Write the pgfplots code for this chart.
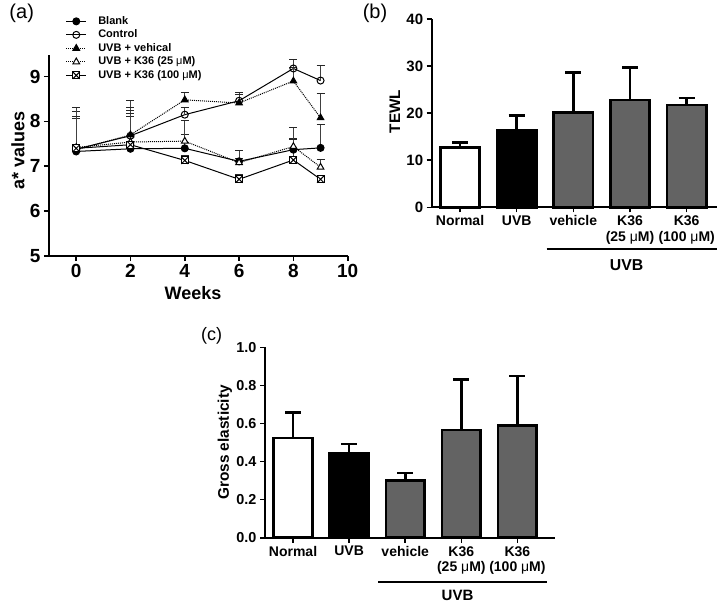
\documentclass[border=0pt]{standalone}
\usepackage{fontspec}
\setmainfont{Liberation Sans}
\usepackage{pgfplots}
\pgfplotsset{compat=1.18}

% square with a cross, GraphPad style
\pgfdeclareplotmark{boxx}{%
  \pgfpathrectangle{\pgfpoint{-\pgfplotmarksize}{-\pgfplotmarksize}}{\pgfpoint{2\pgfplotmarksize}{2\pgfplotmarksize}}%
  \pgfusepathqfillstroke
  \pgfpathmoveto{\pgfpoint{-\pgfplotmarksize}{-\pgfplotmarksize}}%
  \pgfpathlineto{\pgfpoint{\pgfplotmarksize}{\pgfplotmarksize}}%
  \pgfpathmoveto{\pgfpoint{-\pgfplotmarksize}{\pgfplotmarksize}}%
  \pgfpathlineto{\pgfpoint{\pgfplotmarksize}{-\pgfplotmarksize}}%
  \pgfusepathqstroke}

\pgfplotsset{
  gp/.style={
    scale only axis, clip=false,
    axis lines*=left,
    axis line style={line width=2pt,-},
    tick align=outside, major tick length=5pt,
    tick style={line width=1.6pt,black},
    /pgf/number format/assume math mode=true,
  },
  lineerr/.style={error bars/.cd, y dir=plus, y explicit, error mark=|,
    error bar style={line width=1pt,solid,black!75},
    error mark options={line width=1pt,solid,black!85,mark size=4pt}},
  barerr/.style={error bars/.cd, y dir=plus, y explicit, error mark=|,
    error bar style={line width=2.7pt,black},
    error mark options={line width=2.7pt,black,mark size=8pt}},
  gpbar/.style={ybar, bar width=0.69, draw=black, line width=2.7pt, fill=#1},
}

\begin{document}
\begin{tikzpicture}
\useasboundingbox (0,0) rectangle (720pt,-604pt);

\node[font=\fontsize{20}{20}\selectfont] at (21.7pt,-13.3pt) {(a)};
\node[font=\fontsize{20}{20}\selectfont] at (375pt,-13.3pt) {(b)};
\node[font=\fontsize{18}{18}\selectfont] at (211.7pt,-335.8pt) {(c)};

% ---- (a) a* values over time
\begin{axis}[gp,
  at={(49pt,-256pt)}, anchor=south west,
  width=298.7pt, height=201pt,
  xmin=-1, xmax=10, ymin=5, ymax=9.48,
  xtick={0,2,...,10}, ytick={5,6,...,9},
  tick label style={font=\bfseries\fontsize{19}{19}\selectfont},
  xlabel={Weeks}, ylabel={a* values},
  label style={font=\bfseries\fontsize{18}{18}\selectfont},
  xlabel style={at={(axis description cs:0.482,-0.184)}, anchor=center},
  ylabel style={at={(axis description cs:-0.104,0.523)}, anchor=center, rotate=0},
  legend style={at={(axis description cs:0.0555,1.202)}, anchor=north west,
    draw=none, fill=none, inner sep=0pt, row sep=0pt, column sep=10pt,
    font=\bfseries\fontsize{11}{11}\selectfont,
    nodes={inner sep=1.5pt, text height=8pt, text depth=2.5pt}},
  legend cell align=left,
  legend image code/.code={\draw[#1, mark repeat=2, mark phase=2] plot coordinates {(0pt,0pt) (10pt,0pt) (20pt,0pt)};},
]
\addplot[black, line width=1pt, mark=*, mark size=3.5pt, lineerr] coordinates {
  (0,7.33) +- (0,0.90) (2,7.39) +- (0,0.72) (4,7.40) +- (0,0.30)
  (6,7.11) +- (0,0.25) (8,7.37) +- (0,0.25) (9,7.41) +- (0,0.53)};
\addplot[black, line width=1pt, mark=o, mark size=3.5pt, mark options={fill=white}, lineerr] coordinates {
  (0,7.38) +- (0,0.94) (2,7.68) +- (0,0.79) (4,8.15) +- (0,0.17)
  (6,8.46) +- (0,0.19) (8,9.18) +- (0,0.21) (9,8.91) +- (0,0.33)};
\addplot[black, line width=1pt, densely dotted, mark=triangle*, mark size=3.8pt, mark options={solid}, lineerr] coordinates {
  (0,7.37) +- (0,0.75) (2,7.70) +- (0,0.60) (4,8.48) +- (0,0.17)
  (6,8.41) +- (0,0.18) (8,8.90) +- (0,0.30) (9,8.08) +- (0,0.55)};
\addplot[black, line width=1pt, densely dotted, mark=triangle*, mark size=3.8pt, mark options={solid,fill=white}, lineerr] coordinates {
  (0,7.42) +- (0,0.65) (2,7.54) +- (0,0.70) (4,7.56) +- (0,0.46)
  (6,7.08) +- (0,0.10) (8,7.44) +- (0,0.43) (9,6.98) +- (0,0.18)};
\addplot[black, line width=1pt, mark=boxx, mark size=3.5pt, mark options={fill=white}, lineerr] coordinates {
  (0,7.40) +- (0,0.70) (2,7.48) +- (0,0.70) (4,7.13) +- (0,0.12)
  (6,6.71) +- (0,0.10) (8,7.14) +- (0,0.45) (9,6.71) +- (0,0.08)};
\legend{Blank,Control,UVB + vehical,UVB + K36 (25 {\mdseries μ}M),UVB + K36 (100 {\mdseries μ}M)}
\end{axis}

% ---- (b) TEWL
\begin{axis}[gp,
  at={(431.7pt,-207.3pt)}, anchor=south west,
  width=285pt, height=188.3pt,
  xmin=-0.5, xmax=4.53, ymin=0, ymax=40,
  xtick={0,...,4}, ytick={0,10,...,40},
  xticklabels={Normal,UVB,vehicle,{K36\\(25 {\mdseries μ}M)},{K36\\(100 {\mdseries μ}M)}},
  xticklabel style={align=center, font=\bfseries\fontsize{14}{15.6}\selectfont},
  yticklabel style={font=\bfseries\fontsize{15}{15}\selectfont},
  ylabel={TEWL},
  ylabel style={font=\bfseries\fontsize{15.3}{15.3}\selectfont, at={(axis description cs:-0.129,0.508)}, anchor=center},
]
\addplot[gpbar=white, barerr] coordinates {(0,12.7) +- (0,1.1)};
\addplot[gpbar=black, barerr] coordinates {(1,16.3) +- (0,3.2)};
\addplot[gpbar=black!61, barerr] coordinates {(2,20.2) +- (0,8.5)};
\addplot[gpbar=black!61, barerr] coordinates {(3,22.8) +- (0,6.9)};
\addplot[gpbar=black!61, barerr] coordinates {(4,21.7) +- (0,1.5)};
\draw[line width=2pt] (axis description cs:0.4035,-0.223) -- (axis description cs:1.0,-0.223);
\node[font=\bfseries\fontsize{15.8}{15.8}\selectfont, anchor=center] at (axis description cs:0.684,-0.306) {UVB};
\end{axis}

% ---- (c) gross elasticity
\begin{axis}[gp,
  at={(265pt,-537.7pt)}, anchor=south west,
  width=290pt, height=190.4pt,
  xmin=-0.5, xmax=4.67, ymin=0, ymax=1,
  xtick={0,...,4}, ytick={0,0.2,...,1.0},
  yticklabel style={/pgf/number format/fixed, /pgf/number format/fixed zerofill,
    /pgf/number format/precision=1, font=\bfseries\fontsize{14.4}{14.4}\selectfont},
  xticklabels={Normal,UVB,vehicle,{K36\\(25 {\mdseries μ}M)},{K36\\(100 {\mdseries μ}M)}},
  xticklabel style={align=center, font=\bfseries\fontsize{14}{15.6}\selectfont},
  ylabel={Gross elasticity},
  ylabel style={font=\bfseries\fontsize{15.4}{15.4}\selectfont, at={(axis description cs:-0.138,0.5)}, anchor=center},
]
\addplot[gpbar=white, barerr] coordinates {(0,0.523) +- (0,0.134)};
\addplot[gpbar=black, barerr] coordinates {(1,0.445) +- (0,0.047)};
\addplot[gpbar=black!61, barerr] coordinates {(2,0.300) +- (0,0.040)};
\addplot[gpbar=black!61, barerr] coordinates {(3,0.566) +- (0,0.264)};
\addplot[gpbar=black!61, barerr] coordinates {(4,0.590) +- (0,0.260)};
\draw[line width=2pt] (axis description cs:0.391,-0.234) -- (axis description cs:0.971,-0.234);
\node[font=\bfseries\fontsize{15}{15}\selectfont, anchor=center] at (axis description cs:0.664,-0.301) {UVB};
\end{axis}
\end{tikzpicture}
\end{document}
